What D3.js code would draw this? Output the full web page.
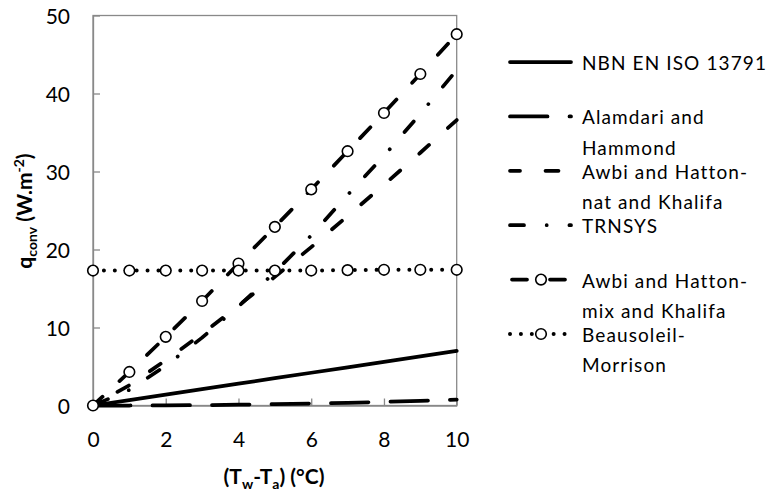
<!DOCTYPE html>
<html>
<head>
<meta charset="utf-8">
<script src="https://cdn.jsdelivr.net/npm/d3@7"></script>
<style>
  body { margin: 0; background: #fff; }
  svg { display: block; }
  text { font-family: Lato, "Open Sans", sans-serif; fill: #000; }
</style>
</head>
<body>
<svg id="chart" width="772" height="494"></svg>
<script>
// Temperature difference between wall and air (°C)
const dT = [0, 1, 2, 3, 4, 5, 6, 7, 8, 9, 10];

// Convective heat flux q_conv (W/m²) for each correlation
const isoValues        = [0, 0.7, 1.4, 2.1, 2.8, 3.5, 4.2, 4.9, 5.6, 6.3, 7.0];
const alamdariValues   = [0, 0.0, 0.02, 0.05, 0.1, 0.17, 0.25, 0.35, 0.46, 0.6, 0.75];
const awbiNatValues    = [0, 2.6, 5.8, 9.2, 12.8, 16.5, 20.3, 24.3, 28.3, 32.4, 36.6];
const trnsysValues     = [0, 2.0, 5.1, 8.7, 12.7, 17.1, 21.8, 27.0, 32.0, 37.4, 43.0];
const awbiMixValues    = [0, 4.3, 8.8, 13.4, 18.2, 22.9, 27.7, 32.6, 37.5, 42.5, 47.6];
const beausoleilValues = [17.3, 17.3, 17.3, 17.3, 17.3, 17.3, 17.3, 17.35, 17.4, 17.4, 17.4];

const seriesLabels = [
  ["NBN EN ISO 13791"],
  ["Alamdari and", "Hammond"],
  ["Awbi and Hatton-", "nat and Khalifa"],
  ["TRNSYS"],
  ["Awbi and Hatton-", "mix and Khalifa"],
  ["Beausoleil-", "Morrison"]
];

const xTicks = [0, 2, 4, 6, 8, 10];
const yTicks = [0, 10, 20, 30, 40, 50];

// Line styling per series
const styles = [
  { dash: null,                      offset: 0,    legendOffset: 0,  markers: false, width: 3.75 },
  { dash: "37.5,22",                 offset: 0,    legendOffset: 0,  markers: false, width: 3.75 },
  { dash: "13,25.5",                 offset: 10.5, legendOffset: 3,  markers: false, width: 3.75 },
  { dash: "14,22.7,0.01,22.7",       offset: 57.2, legendOffset: 0,  markers: false, width: 3.75 },
  { dash: "15,23",                   offset: 2,    legendOffset: -2, markers: true,  width: 3.75 },
  { dash: "0.01,10.9",               offset: 0,    legendOffset: 0,  markers: true,  width: 4 }
];

const seriesValues = [isoValues, alamdariValues, awbiNatValues, trnsysValues, awbiMixValues, beausoleilValues];

const series = seriesValues.map((vals, i) => ({
  label: seriesLabels[i],
  style: styles[i],
  points: dT.map((t, j) => ({ x: t, y: vals[j] }))
}));

const svg = d3.select("#chart");
const plot = { left: 93, right: 456.7, top: 15.5, bottom: 405.5 };
const axisGrey = "#898989";

const x = d3.scaleLinear().domain([0, 10]).range([plot.left, plot.right]);
const y = d3.scaleLinear().domain([0, 50]).range([plot.bottom, plot.top]);

// Plot frame
svg.append("rect")
  .attr("x", plot.left).attr("y", plot.top)
  .attr("width", plot.right - plot.left).attr("height", plot.bottom - plot.top)
  .attr("fill", "none").attr("stroke", axisGrey).attr("stroke-width", 1.3);

// Axes with inward ticks
const yAxis = svg.append("g")
  .attr("transform", `translate(${plot.left},0)`)
  .call(d3.axisLeft(y).tickValues(yTicks).tickSize(-7).tickSizeOuter(0).tickPadding(23));
const xAxis = svg.append("g")
  .attr("transform", `translate(0,${plot.bottom})`)
  .call(d3.axisBottom(x).tickValues(xTicks).tickSize(-7).tickSizeOuter(0).tickPadding(27));

[yAxis, xAxis].forEach(g => {
  g.select(".domain").attr("stroke", axisGrey).attr("stroke-width", 1.3);
  g.selectAll(".tick line").attr("stroke", axisGrey).attr("stroke-width", 1.3);
  g.selectAll(".tick text")
    .attr("font-family", "Lato, \"Open Sans\", sans-serif")
    .attr("font-size", 21)
    .attr("fill", "#000");
});
yAxis.selectAll(".tick text").attr("dy", "0.36em");

// Series lines and markers
const line = d3.line().x(d => x(d.x)).y(d => y(d.y));

series.forEach(s => {
  const g = svg.append("g");
  g.append("path")
    .datum(s.points)
    .attr("d", line)
    .attr("fill", "none")
    .attr("stroke", "#000")
    .attr("stroke-width", s.style.width)
    .attr("stroke-linecap", "round")
    .attr("stroke-linejoin", "round")
    .attr("stroke-dasharray", s.style.dash)
    .attr("stroke-dashoffset", s.style.offset);
  if (s.style.markers) {
    g.selectAll("circle")
      .data(s.points)
      .join("circle")
      .attr("cx", d => x(d.x))
      .attr("cy", d => y(d.y))
      .attr("r", 5.3)
      .attr("fill", "#fff")
      .attr("stroke", "#000")
      .attr("stroke-width", 1.6);
  }
});

// Legend
const legend = svg.append("g");
const legendX0 = 510, legendX1 = 571, legendTextX = 582;
const itemStep = 54.4, lineStep = 30.4, firstBase = 70;
const legendFont = 19;

series.forEach((s, i) => {
  const base = firstBase + i * itemStep;
  const ly = base - 8;
  legend.append("path")
    .attr("d", d3.line()([[legendX0, ly], [legendX1, ly]]))
    .attr("fill", "none")
    .attr("stroke", "#000")
    .attr("stroke-width", s.style.width)
    .attr("stroke-linecap", "round")
    .attr("stroke-dasharray", s.style.dash)
    .attr("stroke-dashoffset", s.style.legendOffset);
  if (s.style.markers) {
    legend.append("circle")
      .attr("cx", 541).attr("cy", ly).attr("r", 5.3)
      .attr("fill", "#fff").attr("stroke", "#000").attr("stroke-width", 1.6);
  }
  s.label.forEach((txt, k) => {
    legend.append("text")
      .attr("class", "legend-label")
      .attr("x", legendTextX)
      .attr("y", base + k * lineStep)
      .attr("font-size", legendFont)
      .text(txt);
  });
});

// Widen the legend lettering so the first label spans its full width
const firstLabel = legend.select(".legend-label").node();
const measured = firstLabel.getComputedTextLength();
const spacing = Math.max(0, (185 - measured) / seriesLabels[0][0].length);
legend.selectAll(".legend-label").attr("letter-spacing", spacing.toFixed(2));

// Axis titles
const xTitle = svg.append("text")
  .attr("x", 274).attr("y", 484)
  .attr("text-anchor", "middle")
  .attr("font-weight", "bold")
  .attr("font-size", 21);
xTitle.append("tspan").text("(T");
xTitle.append("tspan").attr("font-size", 14).attr("dy", 5).text("w");
xTitle.append("tspan").attr("dy", -5).text("-T");
xTitle.append("tspan").attr("font-size", 14).attr("dy", 5).text("a");
xTitle.append("tspan").attr("dy", -5).text(") (°C)");

const yTitle = svg.append("text")
  .attr("transform", "translate(32,211) rotate(-90)")
  .attr("text-anchor", "middle")
  .attr("font-weight", "bold")
  .attr("font-size", 21);
yTitle.append("tspan").text("q");
yTitle.append("tspan").attr("font-size", 14).attr("dy", 5).text("conv");
yTitle.append("tspan").attr("dy", -5).text(" (W.m");
yTitle.append("tspan").attr("font-size", 14).attr("dy", -8).text("-2");
yTitle.append("tspan").attr("dy", 8).text(")");
</script>
</body>
</html>
